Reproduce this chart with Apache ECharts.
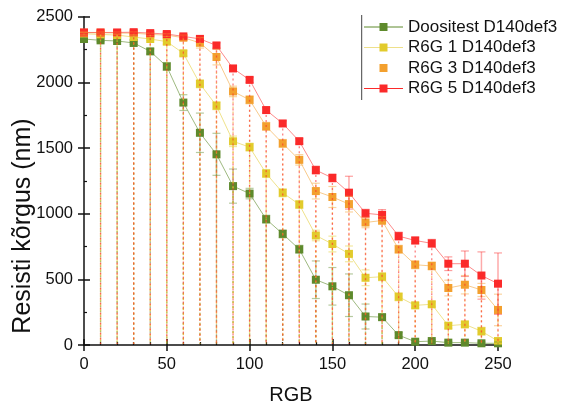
<!DOCTYPE html>
<html>
<head>
<meta charset="utf-8">
<script src="https://cdn.jsdelivr.net/npm/echarts@6/dist/echarts.min.js"></script>
<style>html,body{margin:0;padding:0;background:#fff;}#c{width:562px;height:410px;}</style>
</head>
<body>
<div id="c"></div>
<script>
const rgb = [0,10,20,30,40,50,60,70,80,90,100,110,120,130,140,150,160,170,180,190,200,210,220,230,240,250];
const xTicks = [0,50,100,150,200,250];
const yTicks = [0,500,1000,1500,2000,2500];
const seriesNames = ['Doositest D140def3','R6G 1 D140def3','R6G 3 D140def3','R6G 5 D140def3'];
const doositest = [2330,2320,2315,2300,2236,2121,1846,1616,1452,1210,1153,958,846,729,497,447,379,217,212,75,25,30,18,18,13,13];
const r6g1 = [2370,2365,2360,2345,2330,2310,2221,1989,1822,1551,1507,1306,1159,1070,834,769,694,512,520,367,302,310,147,157,105,30];
const r6g3 = [2378,2378,2375,2375,2365,2360,2340,2301,2193,1931,1867,1665,1535,1410,1172,1127,1073,933,948,729,611,602,434,459,419,267];
const r6g5 = [2380,2380,2380,2382,2375,2368,2350,2331,2281,2106,2019,1789,1687,1552,1332,1272,1160,1003,991,829,796,774,619,619,529,467];
const doositestErr = [10,10,10,10,20,30,60,150,160,130,40,30,30,30,143,143,162,95,20,20,10,10,10,10,10,10];
const r6g1Err = [10,10,10,10,10,20,20,30,30,40,30,30,30,30,40,60,60,60,30,30,20,20,20,20,30,20];
const r6g3Err = [10,10,10,10,10,10,20,40,60,40,30,30,30,40,60,80,60,40,30,30,30,30,60,70,50,120];
const r6g5Err = [10,10,10,10,10,10,10,20,20,20,20,20,20,20,30,30,125,30,40,30,25,30,52,97,180,234];

const colors = ['#5e8a2c','#e2cb2c','#f3a02e','#fb2a2a'];
const lineColors = ['rgba(94,138,44,0.6)','rgba(226,203,44,0.55)','rgba(243,160,46,0.55)','rgba(251,42,42,0.55)'];
const vals = [doositest, r6g1, r6g3, r6g5];
const errs = [doositestErr, r6g1Err, r6g3Err, r6g5Err];

function makeRender(color){
  return function(params, api){
    const x = api.value(0), y = api.value(1), e = api.value(2);
    const p = api.coord([x, y]), p0 = api.coord([x, 0]);
    const ch = [];
    if (e > 0) {
      const hi = api.coord([x, y + e]), lo = api.coord([x, Math.max(0, y - e)]);
      ch.push({type:'line', shape:{x1:p[0],y1:hi[1],x2:p[0],y2:lo[1]}, style:{stroke:color, lineWidth:1.5, opacity:0.4}});
      ch.push({type:'line', shape:{x1:p[0]-4,y1:hi[1],x2:p[0]+4,y2:hi[1]}, style:{stroke:color, lineWidth:1.2, opacity:0.45}});
      ch.push({type:'line', shape:{x1:p[0]-4,y1:lo[1],x2:p[0]+4,y2:lo[1]}, style:{stroke:color, lineWidth:1.2, opacity:0.45}});
    }
    if (x > 0) {
      ch.push({type:'line', shape:{x1:p[0],y1:p[1],x2:p0[0],y2:p0[1]-1}, style:{stroke:color, lineWidth:1.3, opacity:0.6, lineDash:[2,3]}});
    }
    return {type:'group', children: ch};
  };
}

const series = [];
for (let i = 0; i < 4; i++) {
  series.push({
    name: seriesNames[i], type:'line', data: rgb.map((x,k)=>[x, vals[i][k]]),
    symbol:'rect', symbolSize:8, itemStyle:{color:colors[i]},
    lineStyle:{color:lineColors[i], width:1}, z: 2 + i
  });
}
for (let i = 0; i < 4; i++) {
  series.push({
    type:'custom', name:'err'+i, renderItem: makeRender(colors[i]),
    data: rgb.map((x,k)=>[x, vals[i][k], errs[i][k]]), z: 10, silent:true, clip:false
  });
}

const font = 'Liberation Sans, Arial, sans-serif';
const chart = echarts.init(document.getElementById('c'), null, {renderer:'canvas'});
const baseX = {type:'value', min:0, max:250, interval:50, gridIndex:0};
const baseY = {type:'value', min:0, max:2500, interval:500, gridIndex:0};
chart.setOption({
  animation:false,
  backgroundColor:'#fff',
  grid:{left:84, right:64, top:16.7, bottom:59},
  legend:{
    orient:'vertical', left:363, top:17, padding:0, itemWidth:39, itemHeight:10, itemGap:0.5,
    textStyle:{fontFamily:font, fontSize:17, color:'#111', lineHeight:20},
    data:[
      {name:seriesNames[0], lineStyle:{color:'#5e8a2c', width:1}},
      {name:seriesNames[1], lineStyle:{color:'#eee08a', width:1}},
      {name:seriesNames[2], lineStyle:{opacity:0}},
      {name:seriesNames[3], lineStyle:{color:'#fb2a2a', width:1}}
    ],
    selectedMode:false
  },
  graphic:[
    {type:'line', shape:{x1:361.7,y1:15,x2:361.7,y2:100}, style:{stroke:'#444', lineWidth:1}},
    {type:'text', x:23, y:226, rotation:Math.PI/2,
     style:{text:'Resisti kõrgus (nm)', fontFamily:font, fontSize:25, fill:'#111', align:'center', verticalAlign:'middle'}}
  ],
  xAxis:[
    Object.assign({}, baseX, {
      name:'RGB', nameLocation:'middle', nameGap:40,
      nameTextStyle:{fontFamily:font, fontSize:20, color:'#111'},
      axisLine:{lineStyle:{color:'#111', width:1.5}},
      axisTick:{inside:false, length:6, lineStyle:{color:'#111', width:1.5}},
      minorTick:{show:false},
      axisLabel:{margin:11, fontFamily:font, fontSize:16.5, color:'#111', formatter:v=>xTicks.includes(v)?String(v):''},
      splitLine:{show:false}
    }),
    Object.assign({}, baseX, {
      position:'bottom',
      axisLine:{show:false},
      axisTick:{inside:true, length:6, lineStyle:{color:'#111', width:1.5}},
      minorTick:{show:true, splitNumber:5, length:3, lineStyle:{color:'#111', width:1.2}},
      axisLabel:{show:false}, splitLine:{show:false}
    })
  ],
  yAxis:[
    Object.assign({}, baseY, {
      axisLine:{show:true, lineStyle:{color:'#111', width:1.5}},
      axisTick:{show:true, inside:false, length:6, lineStyle:{color:'#111', width:1.5}},
      axisLabel:{margin:11, fontFamily:font, fontSize:16.5, color:'#111', formatter:v=>yTicks.includes(v)?String(v):''},
      splitLine:{show:false}
    }),
    Object.assign({}, baseY, {
      position:'left',
      axisLine:{show:false},
      axisTick:{show:true, inside:true, length:6, lineStyle:{color:'#111', width:1.5}},
      minorTick:{show:true, splitNumber:2, length:3, lineStyle:{color:'#111', width:1.2}},
      axisLabel:{show:false}, splitLine:{show:false}
    })
  ],
  series: series
});
</script>
</body>
</html>
